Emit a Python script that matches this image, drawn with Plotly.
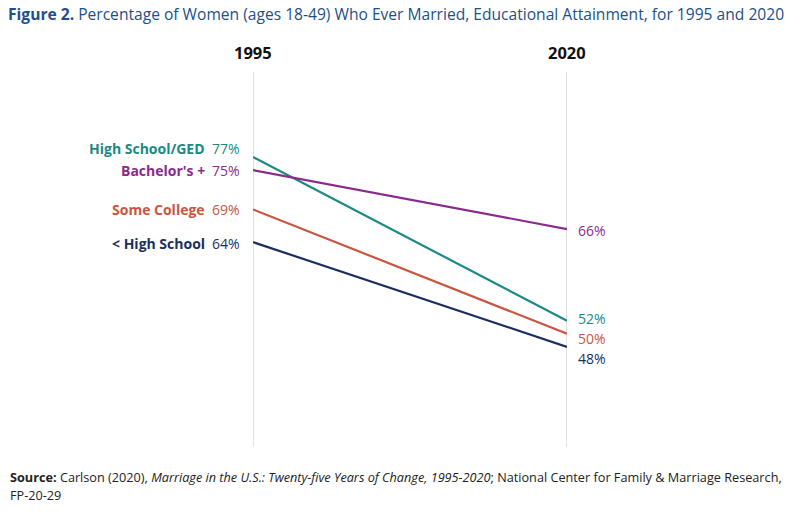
import plotly.graph_objects as go

years = ["1995", "2020"]
groups = ["High School/GED", "Bachelor's +", "Some College", "< High School"]
v1995 = [77, 75, 69, 64]
v2020 = [52, 66, 50, 48]
colors = ["#1b8a84", "#8a2b8c", "#c9563e", "#1a2f5f"]

left_shift = {"High School/GED": 9, "Bachelor's +": 0, "Some College": 0, "< High School": -1}
right_shift = {"High School/GED": 2, "Bachelor's +": -1, "Some College": -5, "< High School": -12}

fig = go.Figure()
xpos = [0, 1]
FONT = "Open Sans"
for g, a, b, c in zip(groups, v1995, v2020, colors):
    fig.add_trace(go.Scatter(x=xpos, y=[a, b], mode="lines",
                             line=dict(color=c, width=2.2), name=g,
                             showlegend=False, hoverinfo="skip", cliponaxis=False))
    fig.add_annotation(x=0, y=a, xref="x", yref="y", text=f"<b>{g}</b>",
                       xanchor="right", yanchor="middle", showarrow=False,
                       xshift=-46, yshift=left_shift[g],
                       font=dict(family=FONT, size=14, color=c))
    fig.add_annotation(x=0, y=a, xref="x", yref="y", text=f"{a}%",
                       xanchor="right", yanchor="middle", showarrow=False,
                       xshift=-11, yshift=left_shift[g],
                       font=dict(family=FONT, size=14, color=c))
    fig.add_annotation(x=1, y=b, xref="x", yref="y", text=f"{b}%",
                       xanchor="left", yanchor="middle", showarrow=False,
                       xshift=10, yshift=right_shift[g], borderpad=0,
                       font=dict(family=FONT, size=14, color=c))

for xp, yr in zip(xpos, years):
    fig.add_annotation(x=xp, y=1, xref="x", yref="paper", text=f"<b>{yr}</b>",
                       xanchor="center", yanchor="bottom", showarrow=False, yshift=6,
                       font=dict(family=FONT, size=16.5, color="#111111"))

fig.add_annotation(xref="paper", yref="paper", x=-245/314, y=-30/375,
                   xanchor="left", yanchor="middle", showarrow=False, align="left",
                   text="<b>Source:</b> Carlson (2020), <i>Marriage in the U.S.: Twenty-five Years of Change, 1995-2020</i>; National Center for Family &amp; Marriage Research,",
                   font=dict(family=FONT, size=12.7, color="#222222"))
fig.add_annotation(xref="paper", yref="paper", x=-245/314, y=-48/375,
                   xanchor="left", yanchor="middle", showarrow=False, align="left",
                   text="FP-20-29",
                   font=dict(family=FONT, size=12.7, color="#222222"))

fig.update_layout(
    width=800, height=512,
    margin=dict(l=253, r=233, t=72, b=65),
    paper_bgcolor="white", plot_bgcolor="white",
    title=dict(text="<b>Figure 2.</b> Percentage of Women (ages 18-49) Who Ever Married, Educational Attainment, for 1995 and 2020",
               x=8/800, xanchor="left", xref="container", y=1 - 15/512, yanchor="middle", yref="container",
               font=dict(family=FONT, size=15.6, color="#1d4f8a")),
    xaxis=dict(range=[0, 1], showgrid=False, zeroline=False, showticklabels=False,
               fixedrange=True, showline=False),
    yaxis=dict(range=[32.7, 90], showgrid=False, zeroline=False, showticklabels=False,
               fixedrange=True),
    shapes=[dict(type="line", xref="x", yref="paper", x0=xp, x1=xp, y0=0, y1=1,
                 line=dict(color="#e2e2e2", width=2), layer="below") for xp in xpos],
)
fig.write_html("out.html")
